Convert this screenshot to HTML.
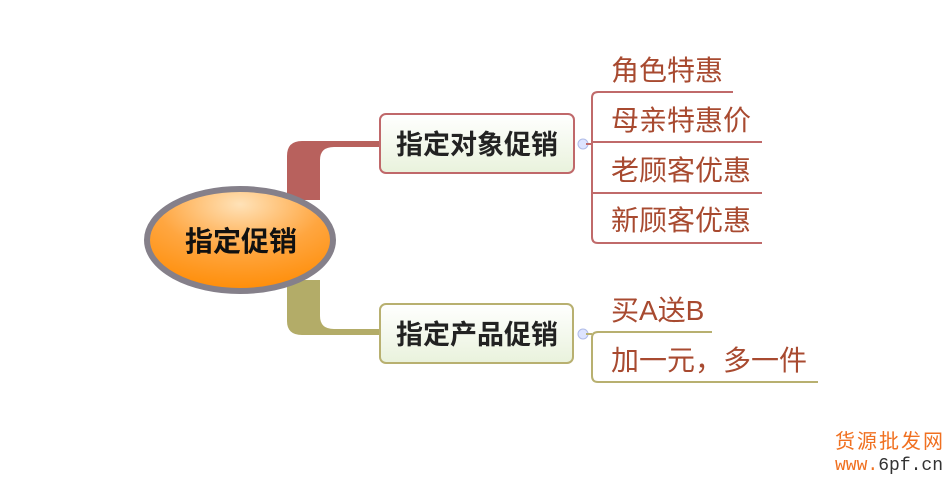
<!DOCTYPE html>
<html><head><meta charset="utf-8"><style>
body{margin:0;background:#fff;width:949px;height:486px;overflow:hidden;font-family:"Liberation Sans","Noto Sans CJK SC",sans-serif}
svg{position:absolute;left:0;top:0}
</style></head><body>
<svg width="949" height="486" viewBox="0 0 949 486">
<defs>
<radialGradient id="og" cx="50%" cy="15%" r="90%">
<stop offset="0" stop-color="#ffe2b8"/><stop offset="0.5" stop-color="#ffa640"/><stop offset="1" stop-color="#ff8a00"/>
</radialGradient>
<linearGradient id="bg" x1="0" y1="0" x2="0" y2="1">
<stop offset="0" stop-color="#ffffff"/><stop offset="1" stop-color="#e9f2dc"/>
</linearGradient>
</defs>
<path d="M287 200 V156 Q287 141 302 141 H380 V147 H334 Q320 147 320 160 V200 Z" fill="#b8615d"/>
<path d="M287 280 V321 Q287 335 302 335 H380 V329 H334 Q320 329 320 316 V280 Z" fill="#b3ac68"/>
<ellipse cx="240" cy="240" rx="93" ry="51" fill="url(#og)" stroke="#85808a" stroke-width="6"/>
<text x="241" y="251" text-anchor="middle" font-size="28" font-weight="bold" fill="#111" font-family="Liberation Sans,Noto Sans CJK SC,sans-serif">指定促销</text>
<rect x="380" y="114" width="194" height="59" rx="6" fill="url(#bg)" stroke="#c0686a" stroke-width="2"/>
<text x="477" y="154" text-anchor="middle" font-size="27" font-weight="bold" fill="#222" font-family="Liberation Sans,Noto Sans CJK SC,sans-serif">指定对象促销</text>
<rect x="380" y="304" width="193" height="59" rx="6" fill="url(#bg)" stroke="#b8b070" stroke-width="2"/>
<text x="477" y="344" text-anchor="middle" font-size="27" font-weight="bold" fill="#222" font-family="Liberation Sans,Noto Sans CJK SC,sans-serif">指定产品促销</text>
<circle cx="583" cy="144" r="5" fill="#dde4ff" stroke="#b0bce8"/>
<circle cx="583" cy="334" r="5" fill="#dde4ff" stroke="#b0bce8"/>
<g fill="none" stroke="#c06a6a" stroke-width="2">
<path d="M733 92 H598 Q592 92 592 98 V237 Q592 243 598 243 H762"/>
<path d="M592 142 H762 M592 193 H762 M586 144 H592"/>
</g>
<g fill="none" stroke="#b8b070" stroke-width="2">
<path d="M712 332 H598 Q592 332 592 338 V376 Q592 382 598 382 H818 M586 334 H592"/>
</g>
<g font-size="28" fill="#a84a30" font-family="Liberation Sans,Noto Sans CJK SC,sans-serif">
<text x="611" y="80">角色特惠</text>
<text x="611" y="130">母亲特惠价</text>
<text x="611" y="180">老顾客优惠</text>
<text x="611" y="230">新顾客优惠</text>
<text x="611" y="320">买A送B</text>
<text x="611" y="370">加一元，多一件</text>
</g>
<text x="835" y="448" font-size="20" fill="#f07020" font-family="Noto Sans CJK SC,sans-serif" letter-spacing="2">货源批发网</text>
<text x="835" y="470" font-size="18" fill="#f07020" font-family="Liberation Mono,monospace">www.<tspan fill="#333">6pf.cn</tspan></text>
</svg>
</body></html>
